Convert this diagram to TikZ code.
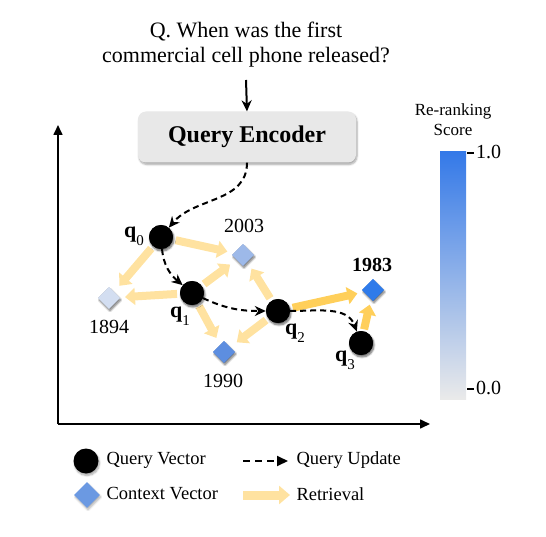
\documentclass[tikz,border=0pt]{standalone}
\usepackage{fontspec}
\setmainfont{Liberation Serif}
\usetikzlibrary{arrows.meta,shadows.blur,shapes.geometric}
\definecolor{retlight}{HTML}{FFE2A0}
\definecolor{retstrong}{HTML}{FFCF5A}
\definecolor{encfill}{HTML}{E8E8E8}
\definecolor{ctxA}{HTML}{9DB9E9}
\definecolor{ctxB}{HTML}{D3DEF1}
\definecolor{ctxC}{HTML}{5D8EE0}
\definecolor{ctxD}{HTML}{2F7BEA}
\definecolor{ctxL}{HTML}{6B99E2}
\definecolor{barTop}{HTML}{3479E8}
\definecolor{barBot}{HTML}{EAEAEA}
\tikzset{
  qvec/.style={circle,fill=black,minimum size=24pt,inner sep=0pt,
    blur shadow={shadow blur steps=6,shadow xshift=1pt,shadow yshift=-2pt,shadow opacity=35}},
  cvec/.style={diamond,minimum size=22pt,inner sep=0pt,
    blur shadow={shadow blur steps=6,shadow xshift=1pt,shadow yshift=-2pt,shadow opacity=30}},
  retr/.style={line width=8pt,draw=retlight,-{Triangle[width=17pt,length=10pt]},shorten <=15pt,shorten >=16pt},
  qupd/.style={line width=2pt,dash pattern=on 6pt off 4pt,-{Stealth[length=11pt,width=10pt]}},
  lbl/.style={font=\fontsize{20}{22}\selectfont},
  qlbl/.style={font=\fontsize{22}{24}\selectfont},
  leg/.style={font=\fontsize{18.5}{20}\selectfont,anchor=west},
}
\newcommand{\qsub}[1]{\textbf{q}\raisebox{-0.35em}{\fontsize{15}{15}\selectfont #1}}
\begin{document}
\begin{tikzpicture}[x=1pt,y=-1pt]
\useasboundingbox (0,0) rectangle (546,537);
% question
\node[font=\fontsize{22}{25}\selectfont,align=center] (qtext) at (246,45) {Q. When was the first\\commercial cell phone released?};
\node[draw=none,fill=encfill,rounded corners=8pt,minimum width=218pt,minimum height=51pt,
  font=\bfseries\fontsize{24}{26}\selectfont,
  blur shadow={shadow blur steps=6,shadow xshift=1pt,shadow yshift=-2pt,shadow opacity=35}] (enc) at (247,137) {Query Encoder};
\coordinate (qa) at (246,80);
\draw[line width=2pt,-{Stealth[length=11pt,width=10pt]}] (qa) -- (enc.north);
% axes
\coordinate (org) at (58,424);
\coordinate (ytop) at (58,125);
\coordinate (xend) at (430,424);
\draw[line width=1.6pt,-{Triangle[length=10pt,width=9pt]}] (org) -- (ytop);
\draw[line width=1.6pt,-{Triangle[length=10pt,width=9pt]}] (org) -- (xend);
% nodes
\node[qvec] (q0) at (161,237) {};
\node[qvec] (q1) at (192,293) {};
\node[qvec] (q2) at (278,311) {};
\node[qvec] (q3) at (361,343) {};
\node[cvec,fill=ctxA] (c2003) at (243,255) {};
\node[cvec,fill=ctxB] (c1894) at (109,298) {};
\node[cvec,fill=ctxC] (c1990) at (224,352) {};
\node[cvec,fill=ctxD] (c1983) at (373,290) {};
% retrieval arrows
\draw[retr] (q0.center) -- (c2003.center);
\draw[retr] (q0.center) -- (c1894.center);
\draw[retr] (q1.center) -- (c1894.center);
\draw[retr] (q1.center) -- (c2003.center);
\draw[retr] (q1.center) -- (c1990.center);
\draw[retr] (q2.center) -- (c2003.center);
\draw[retr] (q2.center) -- (c1990.center);
\draw[retr,draw=retstrong] (q2.center) -- (c1983.center);
\draw[retr,draw=retstrong,shorten <=14pt,shorten >=15pt] (q3.center) -- (c1983.center);
% redraw nodes on top
\node[qvec] at (q0) {};
\node[qvec] at (q1) {};
\node[qvec] at (q2) {};
\node[qvec] at (q3) {};
\node[cvec,fill=ctxA] at (c2003) {};
\node[cvec,fill=ctxB] at (c1894) {};
\node[cvec,fill=ctxC] at (c1990) {};
\node[cvec,fill=ctxD] at (c1983) {};
% labels
\node[qlbl] (l0) at (134,236) {\qsub{0}};
\node[qlbl] (l1) at (180,316) {\qsub{1}};
\node[qlbl] (l2) at (295,333) {\qsub{2}};
\node[qlbl] (l3) at (345,360) {\qsub{3}};
\node[lbl] (t2003) at (244,226) {2003};
\node[lbl] (t1894) at (109,327) {1894};
\node[lbl] (t1990) at (223,381) {1990};
\node[lbl,font=\bfseries\fontsize{20}{22}\selectfont] (t1983) at (372,265) {1983};
% query updates
\draw[qupd] (enc.south) to[out=-90,in=50] (q0);
\draw[qupd] (q0) to[out=-85,in=140] (q1);
\draw[qupd] (q1) to[out=-25,in=180] (q2);
\draw[qupd] (q2) to[out=0,in=110] (q3);
% colorbar
\node[font=\fontsize{17}{20}\selectfont,align=center] (cbt) at (453,120) {Re-ranking\\Score};
\shade[top color=barTop,bottom color=barBot] (440,152) rectangle (466,399);
\coordinate (tk1) at (467,153);
\coordinate (tk1e) at (474,153);
\coordinate (tk0) at (467,389);
\coordinate (tk0e) at (474,389);
\draw[line width=2pt,black] (tk1) -- (tk1e);
\draw[line width=2pt,black] (tk0) -- (tk0e);
\node[anchor=west,inner sep=1pt,font=\fontsize{20}{22}\selectfont] (one) at (475,152) {1.0};
\node[anchor=west,inner sep=1pt,font=\fontsize{20}{22}\selectfont] (zero) at (475,388) {0.0};
% legend
\node[qvec,minimum size=25pt] (lq) at (86,461) {};
\node[leg] (lqt) at (103,460) {Query Vector};
\node[cvec,fill=ctxL,minimum size=26pt] (lc) at (87,495) {};
\node[leg] (lct) at (103,494) {Context Vector};
\coordinate (la1) at (243,461);
\coordinate (la2) at (288,461);
\draw[line width=2pt,dash pattern=on 7pt off 5pt,-{Triangle[length=11pt,width=10pt]}] (la1) -- (la2);
\node[leg] (lat) at (293,460) {Query Update};
\coordinate (lr1) at (243,495);
\coordinate (lr2) at (290,495);
\draw[line width=9pt,draw=retlight,-{Triangle[width=18pt,length=11pt]}] (lr1) -- (lr2);
\node[leg] (lrt) at (293,494) {Retrieval};
\end{tikzpicture}
\end{document}
